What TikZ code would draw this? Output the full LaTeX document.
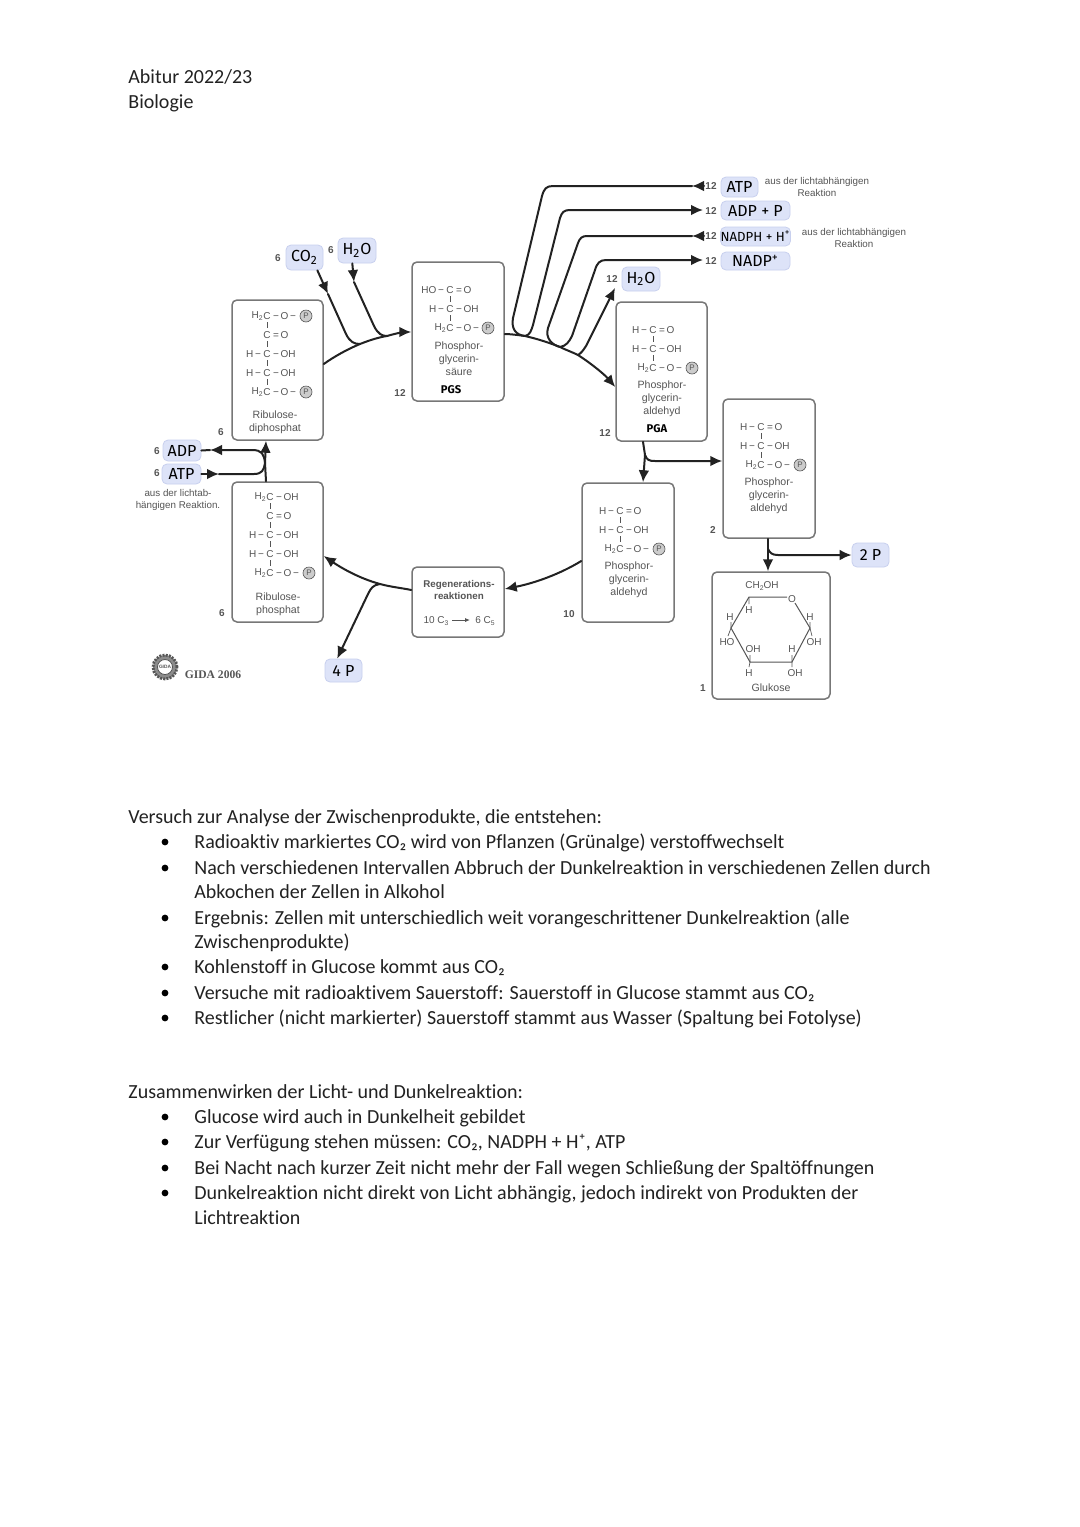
\documentclass[tikz,border=0pt]{standalone}
\usepackage{fontspec}
\setmainfont[Ligatures=NoCommon]{Carlito}
\newfontfamily\ar{Liberation Sans}
\newfontfamily\hw{Fira Sans}
\newfontfamily\tms{Liberation Serif}
\usetikzlibrary{arrows.meta,calc}
\definecolor{ink}{HTML}{222222}
\definecolor{txtg}{HTML}{555555}
\definecolor{bord}{HTML}{777777}
\definecolor{hand}{HTML}{DDE3F8}
\definecolor{handb}{HTML}{C8D0EE}
\newcounter{nid}
\tikzset{
  x=0.5pt,y=-0.5pt,
  boxn/.style={draw=bord,line width=.75pt,rounded corners=2.5pt,inner sep=0pt,fill=white},
  handn/.style={fill=hand,draw=handb,line width=.4pt,rounded corners=2.5pt,inner sep=0pt,text=black,font=\hw\fontsize{8}{9}\selectfont},
  chem/.style={inner sep=0pt,text=txtg,font=\ar\fontsize{5}{6}\selectfont},
  lab/.style={inner sep=0pt,text=txtg,align=center,font=\ar\fontsize{5.3}{6.4}\selectfont},
  num/.style={inner sep=0pt,text=txtg,font=\ar\bfseries\fontsize{5}{6}\selectfont},
  bodyt/.style={inner sep=0pt,anchor=base west,text=ink,font=\fontsize{10}{12}\selectfont},
  conn/.style={draw=ink,line width=1pt,line cap=round},
  tip/.style={-{Latex[length=6pt,width=5.4pt]}},
  bul/.style={circle,fill=black,inner sep=0pt,minimum size=3.4pt},
  pc/.style={circle,draw=txtg,fill=black!20,line width=.3pt,inner sep=0pt,minimum size=6pt,text=txtg,font=\ar\fontsize{4}{5}\selectfont},
  bond/.style={draw=txtg,line width=.35pt},
}
\newcommand\sbc[1]{\raisebox{-.6pt}{\fontsize{3.4}{4}\selectfont #1}}
% box by its corners
\newcommand\BX[7][boxn]{\pgfmathsetmacro\bw{(#5-#3)*0.5}\pgfmathsetmacro\bh{(#6-#4)*0.5}%
  \node[#1,minimum width=\bw pt,minimum height=\bh pt,align=center] (#2) at ({(#3+#5)/2},{(#4+#6)/2}) {#7};}
% generic auto-named text
\newcommand\T[3][lab]{\stepcounter{nid}\node[#1] (t\arabic{nid}) at (#2) {#3};}
% chemical line: C centred at x,y, with left and right parts
\newcommand\CL[4]{\stepcounter{nid}%
  \node[chem] (t\arabic{nid}c) at (#1,#2) {C};
  \node[chem,anchor=east] (t\arabic{nid}l) at (t\arabic{nid}c.west) {#3};
  \node[chem,anchor=west] (t\arabic{nid}r) at (t\arabic{nid}c.east) {#4};}
\newcommand\BD[2]{\draw[bond] (#1,#2-4) -- (#1,#2+2);}
\newcommand\PC[2]{\stepcounter{nid}\node[pc] (t\arabic{nid}) at (#1,#2) {P};}
\def\mn{\,−\,}
\def\hc{H\sbc{2}}
% triose phosphate formula; x = C column, y = first line
\newcommand\TRI[3]{\CL{#1}{#2}{H\mn}{\,=\,O}\BD{#1}{#2+10}%
  \CL{#1}{#2+19}{H\mn}{\mn OH}\BD{#1}{#2+29}%
  \CL{#1}{#2+38}{\hc}{\mn O\mn}\PC{#1+#3}{#2+38}}
\newcommand\BT[3]{\stepcounter{nid}\node[bodyt] (b\arabic{nid}) at (#1,#2) {#3};}
\newcommand\BL[1]{\stepcounter{nid}\node[bul] (d\arabic{nid}) at (165,#1) {};}
\begin{document}
\begin{tikzpicture}
\useasboundingbox[fill=white] (0,0) rectangle (1080,1527);
% header
\BT{128}{83}{Abitur 2022/23}
\BT{128}{108}{Biologie}
% boxes
\BX{rd}{232}{300}{323}{440}{}
\BX{pgs}{412}{262}{504}{401}{}
\BX{pga}{616}{302}{707}{441}{}
\BX{pgb}{723}{399}{815}{538}{}
\BX{pgc}{582}{483}{674}{622}{}
\BX{glu}{712}{572}{830}{699}{}
\BX{reg}{412}{567}{504}{637}{}
\BX{rp}{232}{482}{323}{622}{}
% handwritten labels
\BX[handn]{co}{286}{245}{323}{270}{CO\textsubscript{2}}
\BX[handn]{hoa}{338}{238}{376}{263}{H\textsubscript{2}O}
\BX[handn]{adpl}{163}{440}{201}{461}{ADP}
\BX[handn]{atpl}{162}{464}{201}{484}{ATP}
\BX[handn]{atpr}{721}{177}{758}{197}{ATP}
\BX[handn]{adpr}{721}{201}{790}{220}{ADP + P}
\BX[handn,font=\hw\fontsize{6.6}{8}\selectfont]{nadph}{721}{227}{790}{246}{NADPH + H\textsuperscript{+}}
\BX[handn]{nadp}{721}{252}{790}{270}{NADP\textsuperscript{+}}
\BX[handn]{hob}{622}{267}{660}{291}{H\textsubscript{2}O}
\BX[handn]{fourp}{325}{659}{362}{682}{4 P}
\BX[handn]{twop}{852}{543}{889}{567}{2 P}
% Ribulose-diphosphat formula
\CL{267}{316}{\hc}{\mn O\mn}\PC{306}{316}
\BD{267}{326}
\CL{267}{335}{}{\,=\,O}\BD{267}{345}
\CL{267}{354}{H\mn}{\mn OH}\BD{267}{364}
\CL{267}{373}{H\mn}{\mn OH}\BD{267}{383}
\CL{267}{392}{\hc}{\mn O\mn}\PC{306}{392}
\T{275,422}{Ribulose-\\diphosphat}
% Ribulose-phosphat formula
\CL{270}{497}{\hc}{\mn OH}\BD{270}{507}
\CL{270}{516}{}{\,=\,O}\BD{270}{526}
\CL{270}{535}{H\mn}{\mn OH}\BD{270}{545}
\CL{270}{554}{H\mn}{\mn OH}\BD{270}{564}
\CL{270}{573}{\hc}{\mn O\mn}\PC{309}{573}
\T{278,604}{Ribulose-\\phosphat}
% PGS
\CL{450}{290}{HO\mn}{\,=\,O}\BD{450}{300}
\CL{450}{309}{H\mn}{\mn OH}\BD{450}{319}
\CL{450}{328}{\hc}{\mn O\mn}\PC{488}{328}
\T{459,359}{Phosphor-\\glycerin-\\säure}
\T[lab,text=black,font=\hw\bfseries\fontsize{5.6}{7}\selectfont]{451,390}{PGS}
% PGA
\TRI{653}{330}{39}
\T{662,399}{Phosphor-\\glycerin-\\aldehyd}
\T[lab,text=black,font=\hw\bfseries\fontsize{5.6}{7}\selectfont]{657,429}{PGA}
% right PGA
\TRI{761}{427}{39}
\T{769,496}{Phosphor-\\glycerin-\\aldehyd}
% lower PGA
\TRI{620}{511}{39}
\T{629,580}{Phosphor-\\glycerin-\\aldehyd}
% Regeneration
\T[lab,text=txtg,font=\ar\bfseries\fontsize{4.9}{6}\selectfont]{459,590}{Regenerations-\\reaktionen}
\T[chem]{436,621}{10 C\sbc{3}}
\T[chem]{485,621}{6 C\sbc{5}}
\coordinate (rega) at (452,620); \coordinate (regb) at (470,620);
\draw[bond,line width=.5pt,-{Latex[length=2.4pt,width=2pt]}] (rega) -- (regb);
% Glucose
\coordinate (g1) at (749,597); \coordinate (g2) at (787,597); \coordinate (g3) at (810,628);
\coordinate (g4) at (792,662); \coordinate (g5) at (750,662); \coordinate (g6) at (731,628);
\draw[bond,line width=.5pt] (g2) -- (g1) -- (g6) -- (g5) -- (g4) -- (g3) -- (795,603);
\draw[bond] (g1) -- (749,604) (g5) -- (749,667) (g4) -- (792,655) (g4) -- (792,667);
\draw[bond] (g6) -- (731,622) (g6) -- (728,636) (g3) -- (810,622) (g3) -- (812,636) (g5) -- (750,655);
\T[chem]{792,599}{O}
\T[chem]{762,586}{CH\sbc{2}OH}
\T[chem]{749,610}{H}
\T[chem]{730,617}{H}
\T[chem]{810,617}{H}
\T[chem]{727,642}{HO}
\T[chem]{753,649}{OH}
\T[chem]{792,649}{H}
\T[chem]{814,642}{OH}
\T[chem]{749,673}{H}
\T[chem]{795,673}{OH}
\T{771,688}{Glukose}
% numbers
\T[num]{278,258}{6}
\T[num]{331,250}{6}
\T[num]{400,393}{12}
\T[num]{221,432}{6}
\T[num]{157,451}{6}
\T[num]{157,473}{6}
\T[num]{711,186}{12}
\T[num]{711,211}{12}
\T[num]{711,236}{12}
\T[num]{711,261}{12}
\T[num]{612,279}{12}
\T[num]{605,433}{12}
\T[num]{713,530}{2}
\T[num]{569,614}{10}
\T[num]{703,688}{1}
\T[num]{222,613}{6}
% notes
\T[lab,font=\ar\fontsize{4.9}{6}\selectfont]{178,500}{aus der lichtab-\\hängigen Reaktion.}
\T[lab,font=\ar\fontsize{4.9}{5.8}\selectfont]{817,187}{aus der lichtabhängigen\\Reaktion}
\T[lab,font=\ar\fontsize{4.9}{5.8}\selectfont]{854,238}{aus der lichtabhängigen\\Reaktion}
% logo
\node[circle,draw=txtg,fill=black!45,line width=1.4pt,dashed,dash pattern=on 1pt off .6pt,minimum size=12pt,inner sep=0pt] (logo) at (165,667) {};
\node[circle,fill=white,draw=txtg,line width=.4pt,minimum size=7.5pt,inner sep=0pt,font=\ar\bfseries\fontsize{2.4}{3}\selectfont,text=txtg] (logoi) at (logo) {GIDA};
\T[lab,font=\tms\bfseries\fontsize{5.8}{7}\selectfont]{213,675}{GIDA 2006}
% --- connectors ---
% Ribulose-diphosphat to PGS
\coordinate (rdo) at ($(rd.east)+(0,-6)$);
\coordinate (jco) at (360,344); \coordinate (jho) at (387,336);
\draw[conn,tip] (rdo) .. controls (335,356) and (348,349) .. (jco) .. controls (370,340) and (380,337) .. (jho) .. controls (397,333) and (405,332) .. (pgs.west |- 0,332);
\coordinate (mco) at (328,294); \coordinate (mho) at (354,282);
\draw[conn,tip] (co.-45) -- (mco);
\draw[conn] (mco) -- (346,334) .. controls (350,342) and (354,344) .. (jco);
\draw[conn,tip] (hoa.-110) -- (mho);
\draw[conn] (mho) -- (374,326) .. controls (378,334) and (382,336) .. (jho);
% PGS to PGA
\coordinate (pgo) at (pgs.east |- 0,334);
\coordinate (j1) at (525,336); \coordinate (j2) at (560,347); \coordinate (j3) at (578,355);
\draw[conn,tip] (pgo) .. controls (510,334) and (518,335) .. (j1) .. controls (538,339) and (550,343) .. (j2) .. controls (566,350) and (572,352) .. (j3) .. controls (592,364) and (605,375) .. (pga.west |- 0,387);
% cycle branches
\coordinate (ea) at (704,186); \coordinate (ta) at (692,186);
\draw[conn,tip] (ea) -- (ta);
\draw[conn] (ta) -- (553,186) .. controls (546,186) and (544,189) .. (542,196) -- (513,318) .. controls (511,329) and (516,335) .. (j1);
\coordinate (eb) at (703,210);
\draw[conn,tip] (j1) .. controls (530,335) and (531,331) .. (533,325) -- (560,218) .. controls (562,212) and (564,210) .. (570,210) -- (eb);
\coordinate (ec) at (704,236); \coordinate (tc) at (692,236);
\draw[conn,tip] (ec) -- (tc);
\draw[conn] (tc) -- (587,236) .. controls (582,236) and (580,238) .. (578,243) -- (548,328) .. controls (545,338) and (552,345) .. (j2);
\coordinate (ed) at (703,260);
\draw[conn,tip] (j2) .. controls (566,346) and (569,342) .. (572,336) -- (595,270) .. controls (597,263) and (600,260) .. (606,260) -- (ed);
\coordinate (eh) at (615,288);
\draw[conn,tip] (j3) .. controls (580,354) and (583,351) .. (586,346) -- (eh);
% PGA down
\coordinate (jp) at (645,455);
\draw[conn] (pga.south -| 643,0) -- (jp);
\draw[conn,tip] (jp) -- (pgc.north -| 643,0);
\draw[conn,tip] (jp) .. controls (647,460) and (649,461) .. (655,461) -- (pgb.west |- 0,461);
% right PGA down
\coordinate (jq) at (768,549);
\draw[conn] (pgb.south -| 768,0) -- (jq);
\draw[conn,tip] (jq) -- (glu.north -| 768,0);
\draw[conn,tip] (jq) .. controls (770,553) and (772,555) .. (778,555) -- (twop.west);
% lower PGA to Regeneration
\draw[conn,tip] (pgc.west |- 0,561) .. controls (560,574) and (535,583) .. (reg.east |- 0,589);
% Regeneration to Ribulose-phosphat
\coordinate (jr) at (380,584);
\draw[conn] (reg.west |- 0,590) .. controls (402,588) and (391,587) .. (jr);
\draw[conn,tip] (jr) .. controls (358,578) and (340,567) .. (rp.east |- 0,556);
\draw[conn,tip] (jr) .. controls (373,585) and (371,588) .. (368,594) -- (fourp.118);
% Ribulose-phosphat to Ribulose-diphosphat
\coordinate (js) at (265,463);
\draw[conn] (rp.north -| 266,0) -- (js);
\draw[conn,tip] (js) -- (rd.south -| 266,0);
\coordinate (tad) at (210,450);
\draw[conn,tip] (js) .. controls (264,454) and (262,450) .. (252,450) -- (tad);
\draw[conn] (tad) -- (adpl.east);
\coordinate (tat2) at (219,474);
\draw[conn,tip] (atpl.east) -- (tat2);
\draw[conn] (tat2) -- (254,474) .. controls (262,474) and (264,470) .. (js);
% body text
\BT{128}{823}{Versuch zur Analyse der Zwischenprodukte, die entstehen:}
\BL{842}\BT{194}{848}{Radioaktiv markiertes CO₂ wird von Pflanzen (Grünalge) verstoffwechselt}
\BL{868}\BT{194}{874}{Nach verschiedenen Intervallen Abbruch der Dunkelreaktion in verschiedenen Zellen durch}
\BT{194}{898}{Abkochen der Zellen in Alkohol}
\BL{918}\BT{194}{924}{Ergebnis: Zellen mit unterschiedlich weit vorangeschrittener Dunkelreaktion (alle}
\BT{194}{948}{Zwischenprodukte)}
\BL{967}\BT{194}{973}{Kohlenstoff in Glucose kommt aus CO₂}
\BL{993}\BT{194}{999}{Versuche mit radioaktivem Sauerstoff: Sauerstoff in Glucose stammt aus CO₂}
\BL{1018}\BT{194}{1024}{Restlicher (nicht markierter) Sauerstoff stammt aus Wasser (Spaltung bei Fotolyse)}
\BT{128}{1098}{Zusammenwirken der Licht- und Dunkelreaktion:}
\BL{1117}\BT{194}{1123}{Glucose wird auch in Dunkelheit gebildet}
\BL{1142}\BT{194}{1148}{Zur Verfügung stehen müssen: CO₂, NADPH + H⁺, ATP}
\BL{1168}\BT{194}{1174}{Bei Nacht nach kurzer Zeit nicht mehr der Fall wegen Schließung der Spaltöffnungen}
\BL{1193}\BT{194}{1199}{Dunkelreaktion nicht direkt von Licht abhängig, jedoch indirekt von Produkten der}
\BT{194}{1224}{Lichtreaktion}
\end{tikzpicture}
\end{document}
